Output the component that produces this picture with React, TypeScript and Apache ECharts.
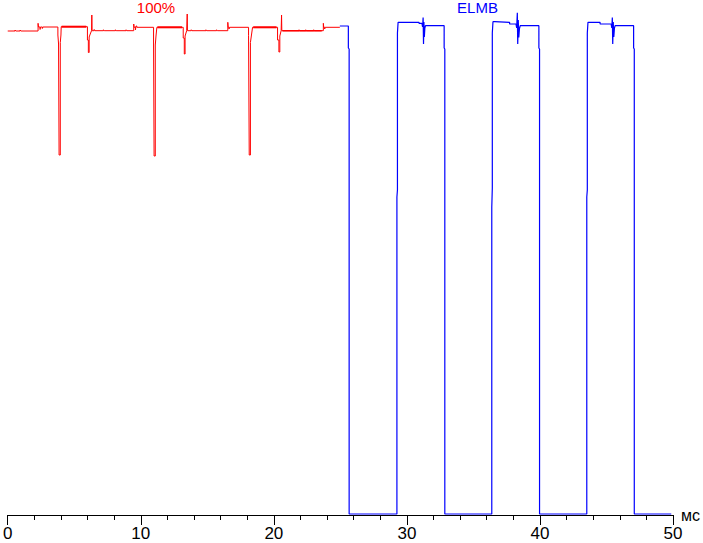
import React, { useEffect, useRef } from "react";
import * as echarts from "echarts";

// x in ms, y in % of the top level scale (0..103)
const xTicks = [0, 10, 20, 30, 40, 50];
const xUnit = "мс";
const labelRed = "100%";
const labelBlue = "ELMB";

const redTrace: [number, number][] = [
  [0, 96.8], [0.55, 96.8], [0.55, 97.0], [0.6, 97.0], [0.6, 96.8], [0.93, 96.8], [0.93, 97.0], [0.98, 97.0], [0.98, 96.8],
  [2.28, 96.8], [2.28, 98.34], [2.31, 98.34], [2.31, 97.6], [2.43, 97.6], [2.43, 97.1], [2.46, 97.1], [2.46, 97.6],
  [2.6, 97.6], [2.6, 97.3], [2.64, 97.3], [2.64, 97.6],
  [3.77, 97.6], [3.77, 96.0], [3.82, 96.0], [3.82, 94.2], [3.86, 94.2], [3.86, 72.0], [3.95, 72.0], [3.95, 94.5], [4.0, 96.0], [4.02, 97.66],
  [5.99, 97.66], [5.99, 95.0], [6.06, 95.0], [6.06, 92.5], [6.12, 92.5], [6.12, 95.6], [6.2, 96.2], [6.3, 96.86],
  [6.32, 96.86], [6.32, 100.0], [6.34, 100.0], [6.34, 96.86],
  [6.5, 96.86], [6.5, 97.1], [6.55, 97.1], [6.55, 96.86], [7.2, 96.86], [7.2, 97.05], [7.25, 97.05], [7.25, 96.86],
  [8.1, 96.86], [8.1, 97.05], [8.15, 97.05], [8.15, 96.86], [8.9, 96.86], [8.9, 97.05], [8.95, 97.05], [8.95, 96.86],
  [9.47, 96.86], [9.47, 98.2], [9.5, 98.2], [9.5, 97.54], [9.6, 97.54], [9.6, 97.0], [9.64, 97.0], [9.64, 97.8], [9.7, 97.8], [9.7, 97.54],
  [10.96, 97.54], [10.96, 95.0], [11.0, 95.0], [11.0, 71.8], [11.09, 71.8], [11.09, 94.0], [11.15, 96.0], [11.21, 97.54],
  [13.19, 97.54], [13.19, 95.4], [13.27, 95.4], [13.27, 92.2], [13.33, 92.2], [13.33, 95.8], [13.45, 96.86],
  [13.49, 96.86], [13.49, 100.2], [13.51, 100.2], [13.51, 96.86],
  [13.8, 96.86], [13.8, 97.05], [13.85, 97.05], [13.85, 96.86], [14.9, 96.86], [14.9, 97.05], [14.95, 97.05], [14.95, 96.86],
  [15.7, 96.86], [15.7, 97.05], [15.75, 97.05], [15.75, 96.86],
  [16.54, 96.86], [16.54, 98.54], [16.57, 98.54], [16.57, 97.54], [16.63, 97.54], [16.63, 97.2], [16.67, 97.2], [16.67, 97.54],
  [18.1, 97.54], [18.1, 95.86], [18.15, 95.86], [18.15, 72.0], [18.24, 72.0], [18.24, 94.5], [18.32, 96.0], [18.4, 97.54],
  [20.28, 97.54], [20.28, 95.0], [20.38, 95.0], [20.38, 92.6], [20.45, 92.6], [20.45, 95.8], [20.55, 96.86],
  [20.58, 96.86], [20.58, 100.0], [20.6, 100.0], [20.6, 96.86],
  [21.9, 96.86], [21.9, 97.05], [21.95, 97.05], [21.95, 96.86], [22.4, 96.86], [22.4, 97.05], [22.45, 97.05], [22.45, 96.86],
  [23.0, 96.86], [23.0, 97.05], [23.05, 97.05], [23.05, 96.86],
  [23.72, 96.86], [23.72, 98.34], [23.75, 98.34], [23.75, 97.54], [23.82, 97.54], [23.82, 97.2], [23.86, 97.2], [23.86, 97.54],
  [24.96, 97.54],
];

const redThick1: [number, number][] = [[4.05, 97.66], [5.9, 97.66]];
const redThick2: [number, number][] = [[11.25, 97.54], [13.1, 97.54]];
const redThick3: [number, number][] = [[18.45, 97.54], [20.2, 97.54]];
const redThick4: [number, number][] = [[20.65, 96.86], [23.6, 96.86]];

const blueTrace: [number, number][] = [
  [24.96, 97.8], [25.6, 97.8], [25.6, 93.4], [25.66, 93.2], [25.66, 0.2],
  [29.25, 0.2], [29.25, 63.6], [29.29, 65.0], [29.29, 96.4], [29.34, 98.54],
  [30.91, 98.54], [30.91, 98.34], [31.13, 98.34], [31.18, 97.6], [31.22, 99.5], [31.25, 94.2], [31.28, 98.6],
  [31.31, 95.6], [31.35, 97.4], [31.4, 97.86],
  [32.8, 97.86], [32.8, 93.4], [32.85, 93.2], [32.85, 0.2],
  [36.38, 0.2], [36.38, 61.6], [36.42, 65.4], [36.42, 96.4], [36.47, 98.66], [36.6, 98.66], [36.6, 98.54],
  [37.72, 98.54], [37.72, 98.2], [38.2, 98.2], [38.25, 97.4], [38.3, 100.46], [38.33, 94.2], [38.37, 99.0],
  [38.41, 95.5], [38.46, 97.3], [38.52, 97.86],
  [39.92, 97.86], [39.92, 93.4], [39.97, 93.2], [39.97, 0.2],
  [43.52, 0.2], [43.52, 63.6], [43.56, 65.0], [43.56, 96.4], [43.61, 98.54],
  [44.52, 98.54], [44.52, 98.2], [45.35, 98.2], [45.4, 97.4], [45.44, 99.5], [45.47, 94.2], [45.51, 98.6],
  [45.55, 95.6], [45.6, 97.4], [45.65, 97.86],
  [47.04, 97.86], [47.04, 93.4], [47.09, 93.2], [47.09, 0.2], [49.87, 0.2],
];

const RED = "#ff0000";
const BLUE = "#0000ff";
const FONT = '"Liberation Sans", Arial, sans-serif';

export default function App() {
  const ref = useRef<HTMLDivElement>(null);
  useEffect(() => {
    if (!ref.current) return;
    const chart = echarts.init(ref.current, undefined, { renderer: "svg" });
    const lineSeries = (data: [number, number][], color: string, width: number) => ({
      type: "line",
      data,
      showSymbol: false,
      symbol: "none",
      silent: true,
      lineStyle: { color, width },
      z: width > 1 ? 3 : 2,
    });
    chart.setOption({
      animation: false,
      backgroundColor: "#ffffff",
      grid: { left: 4.3, right: 26, top: 0, bottom: 28, containLabel: false },
      xAxis: {
        type: "value",
        min: xTicks[0],
        max: xTicks[xTicks.length - 1],
        interval: 10,
        name: xUnit,
        nameLocation: "end",
        nameGap: 8,
        nameTextStyle: { color: "#000", fontSize: 16, fontFamily: FONT, verticalAlign: "middle" },
        axisLine: { show: true, lineStyle: { color: "#000", width: 1 } },
        axisTick: { show: true, length: 10, lineStyle: { color: "#000", width: 1 } },
        minorTick: { show: true, splitNumber: 5, length: 5, lineStyle: { color: "#000", width: 1 } },
        splitLine: { show: false },
        minorSplitLine: { show: false },
        axisLabel: { color: "#000", fontSize: 17, fontFamily: FONT, margin: 10, showMinLabel: true, showMaxLabel: true },
      },
      yAxis: { type: "value", min: 0, max: 103, show: false, splitLine: { show: false } },
      graphic: [
        { type: "text", x: 156, y: 7, style: { text: labelRed, fill: RED, fontSize: 15, fontFamily: FONT, align: "center", verticalAlign: "middle" } },
        { type: "text", x: 477.5, y: 7, style: { text: labelBlue, fill: BLUE, fontSize: 15, fontFamily: FONT, align: "center", verticalAlign: "middle" } },
      ],
      series: [
        lineSeries(redTrace, RED, 1),
        lineSeries(redThick1, RED, 2),
        lineSeries(redThick2, RED, 2),
        lineSeries(redThick3, RED, 2),
        lineSeries(redThick4, RED, 1.6),
        lineSeries(blueTrace, BLUE, 1.2),
      ],
    });
    return () => chart.dispose();
  }, []);
  return <div ref={ref} style={{ position: "fixed", left: 0, top: 0, width: 703, height: 543 }} />;
}
